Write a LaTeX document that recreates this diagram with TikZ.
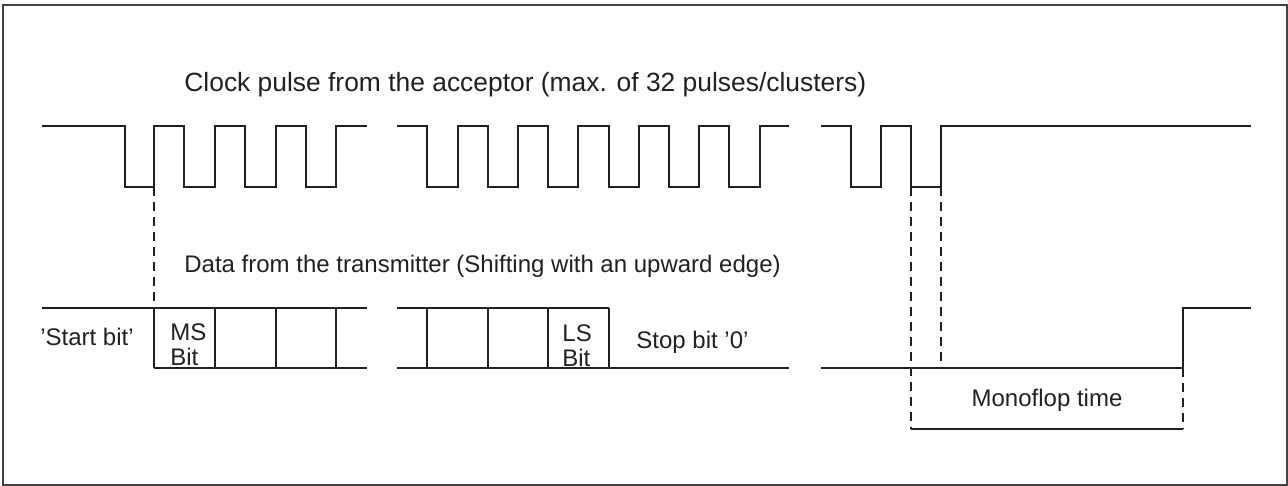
\documentclass[tikz,border=0pt]{standalone}
\usepackage{fontspec}
\setmainfont{Liberation Sans}
\usetikzlibrary{positioning}
\definecolor{ink}{HTML}{231F20}
\tikzset{
    sig/.style={draw=ink,line width=1pt},
    cell/.style={draw=ink,line width=0.7pt},
    marker/.style={draw=ink,line width=0.7pt,dash pattern=on 4.5pt off 3pt},
    lbl/.style={inner sep=0pt,text=ink,font=\fontsize{12}{12.5}\selectfont}
}

\begin{document}
\begin{tikzpicture}[x=0.5pt,y=-0.5pt]
    \useasboundingbox (0,0) rectangle (1288,486);
    \draw[draw=ink!85,line width=1pt] (3,5) rectangle (1287,485);
\node[lbl,anchor=base west,font=\fontsize{13.2}{15}\selectfont] (clk) at (184,92)
        {Clock pulse from the acceptor (max. of 32 pulses/clusters)};
    \draw[sig] (42,126)--(125,126)--(125,187)--(154,187)--(154,126)--(184,126)
        --(184,187)--(215,187)--(215,126)--(245,126)--(245,187)--(276,187)
        --(276,126)--(306,126)--(306,187)--(336,187)--(336,126)--(367,126);
    \draw[sig] (397,126)--(427,126)--(427,187)--(458,187)--(458,126)--(488,126)
        --(488,187)--(518,187)--(518,126)--(548,126)--(548,187)--(578,187)
        --(578,126)--(609,126)--(609,187)--(639,187)--(639,126)--(669,126)
        --(669,187)--(699,187)--(699,126)--(729,126)--(729,187)--(760,187)
        --(760,126)--(789,126);
    \draw[sig] (821,126)--(851,126)--(851,187)--(881,187)--(881,126)--(911,126)
        --(911,187)--(941,187)--(941,126)--(1251,126);
\node[lbl,anchor=base west] (data) at (184,272.5)
        {Data from the transmitter (Shifting with an upward edge)};
    \draw[sig] (42,308)--(367,308);
    \draw[cell] (154,308)--(154,368);
    \draw[sig] (154,368)--(367,368);
    \draw[cell] (215,308)--(215,368) (276,308)--(276,368) (336,308)--(336,368);
    \draw[sig] (397,308)--(609,308);
    \draw[cell] (609,308)--(609,368);
    \draw[sig] (397,368)--(789,368);
    \draw[cell] (427,308)--(427,368) (488,308)--(488,368) (548,308)--(548,368);
    \draw[sig] (821,368)--(1183,368)--(1183,308)--(1251,308);
\node[lbl,anchor=base] (start) at (87,345) {'Start bit'};
\node[lbl,anchor=north west,align=left] (msb) at (170,323) {MS\\Bit};
\node[lbl,anchor=north west,align=left] (lsb) at (562,324) {LS\\Bit};
\node[lbl,anchor=base west] (stop) at (636,348) {Stop bit '0'};
    \coordinate (r1) at (154,187);
    \coordinate (r1b) at (154,308);
    \coordinate (f2) at (911,187);
    \coordinate (f2b) at (911,429);
    \coordinate (r2) at (941,187);
    \coordinate (r2b) at (941,368);
    \coordinate (up) at (1183,368);
    \coordinate (upb) at (1183,429);
    \draw[marker] (r1)--(r1b);
    \draw[marker] (f2)--(f2b);
    \draw[marker] (r2)--(r2b);
    \draw[marker] (up)--(upb);
    \draw[cell] (f2b)--(upb)
        node[lbl,pos=0.5,anchor=base,yshift=11.5pt] (mono) {Monoflop time};
\end{tikzpicture}
\end{document}
